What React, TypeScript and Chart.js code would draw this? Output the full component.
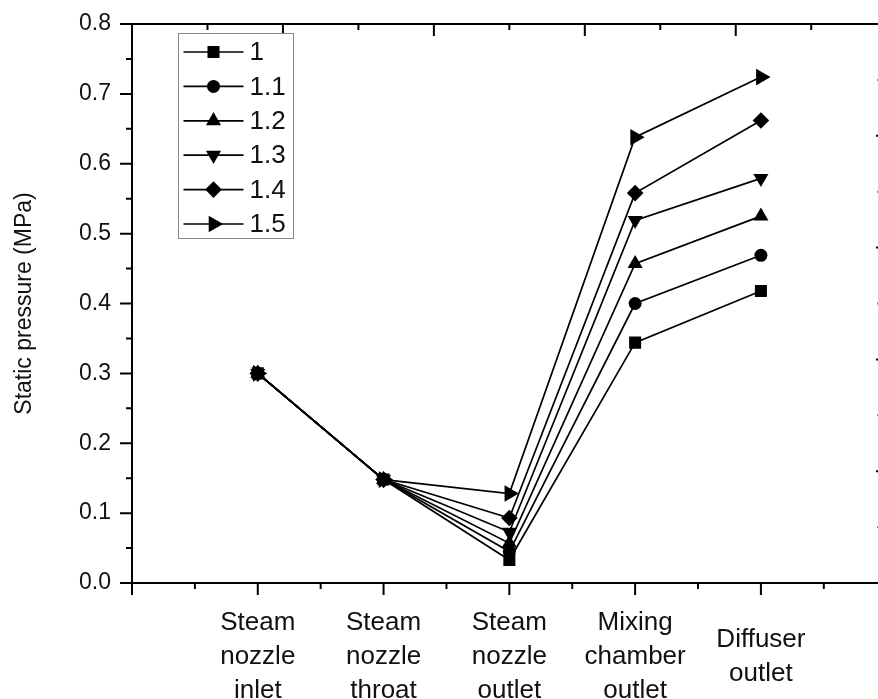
import React, { useEffect, useRef } from "react";
import { Chart, registerables } from "chart.js";
import { drawPoint } from "chart.js/helpers";

Chart.register(...registerables);

const categories: string[][] = [
  ["Steam", "nozzle", "inlet"],
  ["Steam", "nozzle", "throat"],
  ["Steam", "nozzle", "outlet"],
  ["Mixing", "chamber", "outlet"],
  ["Diffuser", "outlet"],
];
const positions = [1, 2, 3, 4, 5];

const seriesLabels = ["1", "1.1", "1.2", "1.3", "1.4", "1.5"];
const s1 = [0.3, 0.148, 0.033, 0.344, 0.418];
const s11 = [0.3, 0.148, 0.045, 0.4, 0.469];
const s12 = [0.3, 0.148, 0.057, 0.457, 0.525];
const s13 = [0.3, 0.148, 0.073, 0.519, 0.579];
const s14 = [0.3, 0.148, 0.093, 0.558, 0.662];
const s15 = [0.3, 0.148, 0.128, 0.638, 0.724];
const seriesValues = [s1, s11, s12, s13, s14, s15];

const yTickValues = [0, 0.1, 0.2, 0.3, 0.4, 0.5, 0.6, 0.7, 0.8];

const markerStyles = [
  { pointStyle: "rect", radius: 8.5, rotation: 0 },
  { pointStyle: "circle", radius: 6.5, rotation: 0 },
  { pointStyle: "triangle", radius: 8.7, rotation: 0 },
  { pointStyle: "triangle", radius: 8.7, rotation: 180 },
  { pointStyle: "rectRot", radius: 8.3, rotation: 0 },
  { pointStyle: "triangle", radius: 9.6, rotation: 90 },
];

const FONT = "'Liberation Sans', Arial, 'DejaVu Sans', sans-serif";

const framePlugin = {
  id: "frame",
  beforeDatasetsDraw(chart: any) {
    const { ctx, chartArea } = chart;
    const { left, right, top, bottom } = chartArea;
    const xs = chart.scales.x;
    const ys = chart.scales.y;
    ctx.save();
    ctx.strokeStyle = "#000";
    ctx.lineWidth = 2;
    ctx.lineCap = "butt";
    ctx.beginPath();
    ctx.moveTo(left, top);
    ctx.lineTo(left, bottom + 12);
    ctx.moveTo(left - 1, bottom);
    ctx.lineTo(right + 10, bottom);
    ctx.moveTo(left - 1, top);
    ctx.lineTo(right + 10, top);
    for (let i = 0; i <= 16; i++) {
      const v = i * 0.05;
      const py = ys.getPixelForValue(v);
      const len = i % 2 === 0 ? 12 : 6;
      ctx.moveTo(left, py);
      ctx.lineTo(left - len, py);
    }
    for (let i = 1; i <= 11; i++) {
      const v = i * 0.5;
      const px = xs.getPixelForValue(v);
      const len = i % 2 === 0 ? 12 : 6;
      ctx.moveTo(px, bottom);
      ctx.lineTo(px, bottom + len);
    }
    for (let i = 1; i <= 9; i++) {
      const v = i * 0.6;
      const px = xs.getPixelForValue(v);
      if (px > right) break;
      const len = i % 2 === 0 ? 12 : 6;
      ctx.moveTo(px, top);
      ctx.lineTo(px, top + len);
    }
    // right axis ticks: only their inner ends show at the cropped edge
    for (let i = 1; i <= 9; i++) {
      const v = i * 0.08;
      const py = ys.getPixelForValue(v);
      if (py < top) break;
      const len = i % 2 === 0 ? 3 : 1.5;
      ctx.moveTo(876 + (3 - len), py);
      ctx.lineTo(879, py);
    }
    ctx.stroke();
    ctx.restore();
  },
};

const legendPlugin = {
  id: "customLegend",
  afterDatasetsDraw(chart: any) {
    const { ctx, chartArea } = chart;
    const bx = chartArea.left + 46.5;
    const by = chartArea.top + 9.5;
    const bw = 115;
    const bh = 205;
    ctx.save();
    ctx.fillStyle = "#fff";
    ctx.fillRect(bx, by, bw, bh);
    ctx.strokeStyle = "#888";
    ctx.lineWidth = 1;
    ctx.strokeRect(bx, by, bw, bh);
    chart.data.datasets.forEach((ds: any, i: number) => {
      const cy = by + 18.5 + i * 34.4;
      ctx.strokeStyle = "#000";
      ctx.lineWidth = 1.7;
      ctx.beginPath();
      ctx.moveTo(bx + 5, cy);
      ctx.lineTo(bx + 65, cy);
      ctx.stroke();
      ctx.fillStyle = "#000";
      const m = markerStyles[i];
      drawPoint(ctx, { pointStyle: m.pointStyle, radius: m.radius, rotation: m.rotation, borderWidth: 0 }, bx + 35, cy);
      ctx.fillStyle = "#111";
      ctx.font = `26px ${FONT}`;
      ctx.textAlign = "left";
      ctx.textBaseline = "middle";
      ctx.fillText(ds.label, bx + 71, cy + 1);
    });
    ctx.restore();
  },
};

export default function App() {
  const ref = useRef<HTMLCanvasElement | null>(null);
  useEffect(() => {
    document.body.style.margin = "0";
    const canvas = ref.current;
    if (!canvas) return;
    const datasets = seriesValues.map((vals, i) => ({
      label: seriesLabels[i],
      data: vals.map((v, j) => ({ x: positions[j], y: v })),
      borderColor: "#000",
      backgroundColor: "#000",
      borderWidth: 1.7,
      pointStyle: markerStyles[i].pointStyle as any,
      pointRadius: markerStyles[i].radius,
      pointRotation: markerStyles[i].rotation,
      pointBackgroundColor: "#000",
      pointBorderColor: "#000",
      pointBorderWidth: 0,
      tension: 0,
      fill: false,
    }));
    const chart = new Chart(canvas, {
      type: "line",
      data: { datasets },
      options: {
        animation: false,
        responsive: false,
        devicePixelRatio: 1,
        layout: { padding: { top: 24, right: 3, left: 0, bottom: 0 } },
        plugins: { legend: { display: false }, tooltip: { enabled: false } },
        scales: {
          x: {
            type: "linear",
            min: 0,
            max: 5.95,
            grid: { display: false },
            border: { display: false },
            afterBuildTicks: (s: any) => {
              s.ticks = positions.map((v) => ({ value: v }));
            },
            afterFit: (s: any) => {
              s.height = 116;
              s.paddingLeft = 0;
              s.paddingRight = 0;
            },
            ticks: {
              autoSkip: false,
              maxRotation: 0,
              minRotation: 0,
              crossAlign: "center",
              padding: 32,
              color: "#111",
              font: { family: FONT, size: 26, lineHeight: 34 / 26 },
              callback: (v: any) => {
                const idx = positions.indexOf(Number(v));
                return idx >= 0 ? categories[idx] : "";
              },
            },
          },
          y: {
            type: "linear",
            min: 0,
            max: 0.8,
            grid: { display: false },
            border: { display: false },
            afterBuildTicks: (s: any) => {
              s.ticks = yTickValues.map((v) => ({ value: v }));
            },
            afterFit: (s: any) => {
              s.width = 132;
              s.paddingTop = 0;
              s.paddingBottom = 0;
            },
            title: {
              display: true,
              text: "Static pressure (MPa)",
              color: "#111",
              font: { family: FONT, size: 23 },
              padding: { top: 11, bottom: 0 },
            },
            ticks: {
              padding: 13,
              color: "#111",
              font: { family: FONT, size: 23 },
              callback: (v: any) => Number(v).toFixed(1),
            },
          },
        },
      },
      plugins: [framePlugin, legendPlugin],
    });
    return () => chart.destroy();
  }, []);
  return (
    <div style={{ width: 878, height: 699, overflow: "hidden", position: "relative", background: "#fff" }}>
      <canvas ref={ref} width={890} height={699} style={{ display: "block", width: 890, height: 699 }} />
    </div>
  );
}
